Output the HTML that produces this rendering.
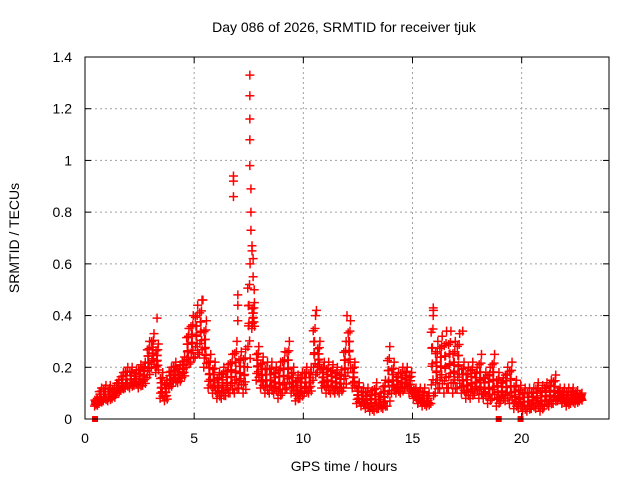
<!DOCTYPE html>
<html><head><meta charset="utf-8"><style>
body{margin:0;background:#fff}
svg{display:block;font-family:"Liberation Sans",sans-serif}
</style></head><body>
<svg id="chart" width="640" height="480" viewBox="0 0 640 480">
<rect width="640" height="480" fill="#fff"/>
<g id="grid"></g>
<g id="marks"></g>
<g id="axes"></g>
<text x="344" y="32" text-anchor="middle" font-size="14">Day 086 of 2026, SRMTID for receiver tjuk</text>
<text x="344" y="471" text-anchor="middle" font-size="14">GPS time / hours</text>
<text transform="translate(19,238) rotate(-90)" text-anchor="middle" font-size="14">SRMTID / TECUs</text>
</svg>
<script>
const times=[0.5,0.7,0.9,1.1,1.3,1.5,1.7,1.9,2.1,2.3,2.5,2.7,2.9,3.1,3.3,3.5,3.7,3.9,4.1,4.3,4.5,4.7,4.9,5.1,5.3,5.5,5.7,5.9,6.1,6.3,6.5,6.7,6.9,7.1,7.3,7.5,7.7,7.9,8.1,8.3,8.5,8.7,8.9,9.1,9.3,9.5,9.7,9.9,10.1,10.3,10.5,10.7,10.9,11.1,11.3,11.5,11.7,11.9,12.1,12.3,12.5,12.7,12.9,13.1,13.3,13.5,13.7,13.9,14.1,14.3,14.5,14.7,14.9,15.1,15.3,15.5,15.7,15.9,16.1,16.3,16.5,16.7,16.9,17.1,17.3,17.5,17.7,17.9,18.1,18.3,18.5,18.7,18.9,19.1,19.3,19.5,19.7,19.9,20.1,20.3,20.5,20.7,20.9,21.1,21.3,21.5,21.7,21.9,22.1,22.3,22.5,22.7];
const lowVals=[.05,.06,.07,.07,.08,.10,.11,.12,.12,.13,.12,.13,.16,.20,.18,.08,.07,.12,.14,.14,.16,.2,.22,.24,.25,.2,.12,.1,.08,.08,.09,.1,.1,.12,.1,.2,.35,.15,.12,.1,.1,.1,.08,.1,.12,.1,.07,.08,.1,.1,.15,.18,.12,.1,.1,.1,.1,.12,.18,.12,.06,.05,.04,.03,.03,.04,.04,.05,.1,.1,.1,.12,.1,.08,.06,.05,.05,.06,.1,.12,.1,.12,.1,.12,.1,.08,.08,.1,.08,.08,.06,.08,.05,.07,.07,.06,.04,.04,.03,.03,.04,.04,.03,.05,.05,.06,.07,.06,.05,.06,.06,.07];
const highVals=[.08,.12,.13,.13,.12,.15,.18,.2,.2,.19,.21,.22,.3,.33,.29,.18,.15,.2,.22,.21,.24,.35,.4,.44,.46,.38,.25,.22,.18,.2,.21,.25,.3,.26,.27,.6,.45,.28,.24,.22,.22,.2,.22,.26,.3,.2,.17,.18,.2,.2,.4,.3,.22,.22,.21,.2,.19,.3,.38,.22,.14,.12,.12,.11,.14,.1,.15,.28,.22,.18,.2,.2,.18,.12,.12,.12,.1,.42,.3,.32,.34,.34,.3,.33,.22,.2,.22,.2,.25,.18,.2,.25,.18,.16,.2,.22,.15,.13,.12,.12,.12,.14,.13,.14,.15,.17,.12,.12,.12,.12,.11,.1];
const spikeTimes=[6.8,6.8,6.8,7.0,7.0,7.0,7.55,7.55,7.55,7.55,7.55,7.6,7.6,7.6,7.65,7.65,7.7,7.7,7.75,3.3,5.4,10.6,12.0,15.95,15.95,17.3];
const spikeVals=[.86,.92,.94,.48,.44,.38,1.33,1.25,1.16,1.08,.98,.89,.8,.73,.67,.65,.62,.55,.5,.39,.46,.42,.4,.43,.4,.34];
const gapTimes=[0.46,18.95,19.95];
const xTicks=[0,5,10,15,20];
const yTicks=[0,0.2,0.4,0.6,0.8,1,1.2,1.4];

const X0=85,X1=609,Y0=419,Y1=57,XMAX=24,YMAX=1.4;
const sx=t=>X0+t/XMAX*(X1-X0);
const sy=v=>Y0-v/YMAX*(Y0-Y1);
const NS="http://www.w3.org/2000/svg";
function mk(tag,attrs,parent){const e=document.createElementNS(NS,tag);for(const k in attrs)e.setAttribute(k,attrs[k]);parent.appendChild(e);return e;}
const grid=document.getElementById('grid'),marks=document.getElementById('marks'),axes=document.getElementById('axes');

yTicks.forEach(v=>{
  const y=sy(v);
  if(v>0&&v<YMAX){const g=mk('line',{x1:X0,x2:X1,y1:y,y2:y,stroke:'#a0a0a0','stroke-dasharray':'2,3'},grid);
  
  }
  mk('line',{x1:X0,x2:X0+6,y1:y,y2:y,stroke:'#000'},axes);
  mk('line',{x1:X1,x2:X1-6,y1:y,y2:y,stroke:'#000'},axes);
  const t=mk('text',{x:X0-13,y:y+5,'text-anchor':'end','font-size':'14'},axes);
  t.textContent=String(v);
  
  
});
xTicks.forEach(v=>{
  const x=sx(v);
  if(v>0){const g=mk('line',{x1:x,x2:x,y1:Y0,y2:Y1,stroke:'#a0a0a0','stroke-dasharray':'2,3'},grid);
  
  }
  mk('line',{x1:x,x2:x,y1:Y0,y2:Y0-6,stroke:'#000'},axes);
  mk('line',{x1:x,x2:x,y1:Y1,y2:Y1+6,stroke:'#000'},axes);
  const t=mk('text',{x:x,y:Y0+24,'text-anchor':'middle','font-size':'14'},axes);
  t.textContent=String(v);
  
  
});
const box=mk('rect',{x:X0,y:Y1,width:X1-X0,height:Y0-Y1,fill:'none',stroke:'#000'},axes);



function plus(t,v){
  const x=sx(t),y=sy(v);
  const p=mk('path',{d:`M${x-4.5},${y}H${x+4.5}M${x},${y-4.5}V${y+4.5}`,stroke:'#f00','stroke-width':'1.5',fill:'none'},marks);
  
  
}
times.forEach((t,i)=>{
  const lo=lowVals[i],hi=highVals[i];
  [0,0.2,0.4,0.6,0.8,1].forEach(f=>{plus(t-0.06+f*0.12,lo+(hi-lo)*f);});
  [0.1,0.3,0.5,0.7,0.9].forEach(f=>{plus(t+0.08-f*0.14,lo+(hi-lo)*f*0.85);});
});
spikeTimes.forEach((t,i)=>plus(t,spikeVals[i]));
gapTimes.forEach(t=>{
  const r=mk('rect',{x:sx(t)-3,y:Y0-3,width:6,height:6,fill:'#f00'},marks);
  
  
});
</script>
</body></html>
